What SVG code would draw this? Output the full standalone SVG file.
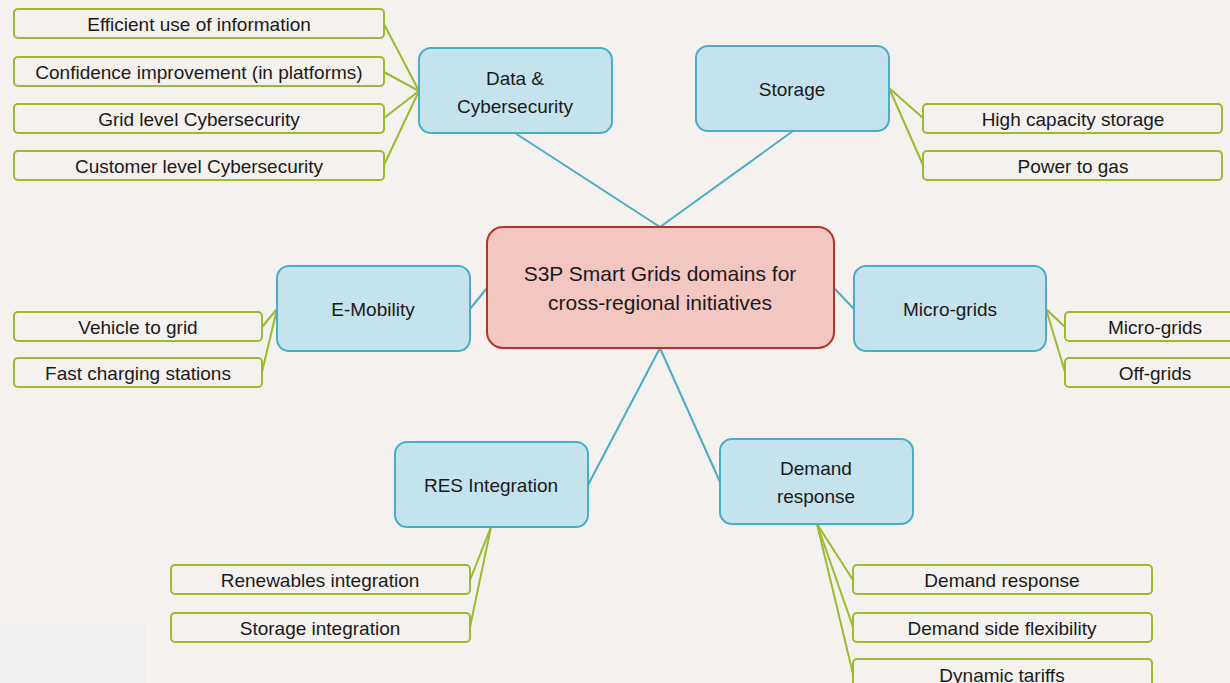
<svg xmlns="http://www.w3.org/2000/svg" width="1230" height="683" viewBox="0 0 1230 683">
<style>
  .leaf rect { fill: #f4f1ee; stroke: #9bbb30; stroke-width: 2; }
  .leaf text { font-family: "Liberation Sans", Arial, sans-serif; font-size: 19px; fill: #1a1a1a; text-anchor: middle; dominant-baseline: central; }
  .dom rect { fill: #c5e3ed; stroke: #4bacc6; stroke-width: 2; }
  .dom text { font-family: "Liberation Sans", Arial, sans-serif; font-size: 19px; fill: #1a1a1a; text-anchor: middle; dominant-baseline: central; }
  .center rect { fill: #f4c6c2; stroke: #b3362c; stroke-width: 2; }
  .center text { font-family: "Liberation Sans", Arial, sans-serif; font-size: 21px; fill: #1a1a1a; text-anchor: middle; dominant-baseline: central; }
  .blue { stroke: #4bacc6; stroke-width: 2; fill: none; }
  .green { stroke: #9bbb30; stroke-width: 2; fill: none; }
</style>
<rect x="0" y="0" width="1230" height="683" fill="#f4f1ee"/>
<rect x="0" y="623" width="146" height="60" fill="#f1efee"/>

<g id="connectors">
  <line class="blue" x1="515" y1="133" x2="660" y2="227"/>
  <line class="blue" x1="793" y1="131" x2="660" y2="227"/>
  <line class="blue" x1="487" y1="288" x2="470" y2="309"/>
  <line class="blue" x1="834" y1="288" x2="854" y2="309"/>
  <line class="blue" x1="660" y1="348" x2="588" y2="485"/>
  <line class="blue" x1="660" y1="348" x2="720" y2="482"/>

  <line class="green" x1="419" y1="91" x2="384" y2="24"/>
  <line class="green" x1="419" y1="91" x2="384" y2="72"/>
  <line class="green" x1="419" y1="91" x2="384" y2="118"/>
  <line class="green" x1="419" y1="91" x2="384" y2="165"/>

  <line class="green" x1="889" y1="88" x2="923" y2="118"/>
  <line class="green" x1="889" y1="88" x2="923" y2="165"/>

  <line class="green" x1="277" y1="309" x2="262" y2="327"/>
  <line class="green" x1="277" y1="309" x2="262" y2="372"/>

  <line class="green" x1="1046" y1="309" x2="1065" y2="327"/>
  <line class="green" x1="1046" y1="309" x2="1065" y2="372"/>

  <line class="green" x1="491" y1="527" x2="470" y2="580"/>
  <line class="green" x1="491" y1="527" x2="470" y2="627"/>

  <line class="green" x1="817" y1="524" x2="853" y2="580"/>
  <line class="green" x1="817" y1="524" x2="853" y2="627"/>
  <line class="green" x1="817" y1="524" x2="853" y2="674"/>
</g>

<g id="center" class="center">
  <rect x="487" y="227" width="347" height="121" rx="16"/>
  <text x="660" y="273">S3P Smart Grids domains for</text>
  <text x="660" y="302">cross-regional initiatives</text>
</g>

<g id="data" class="dom">
  <rect x="419" y="48" width="193" height="85" rx="12"/>
  <text x="515" y="78">Data &amp;</text>
  <text x="515" y="106">Cybersecurity</text>
</g>
<g id="storage" class="dom">
  <rect x="696" y="46" width="193" height="85" rx="12"/>
  <text x="792" y="89">Storage</text>
</g>
<g id="emobility" class="dom">
  <rect x="277" y="266" width="193" height="85" rx="12"/>
  <text x="373" y="309">E-Mobility</text>
</g>
<g id="microgrids" class="dom">
  <rect x="854" y="266" width="192" height="85" rx="12"/>
  <text x="950" y="309">Micro-grids</text>
</g>
<g id="res" class="dom">
  <rect x="395" y="442" width="193" height="85" rx="12"/>
  <text x="491" y="485">RES Integration</text>
</g>
<g id="demand" class="dom">
  <rect x="720" y="439" width="193" height="85" rx="12"/>
  <text x="816" y="468">Demand</text>
  <text x="816" y="496">response</text>
</g>

<g id="leaf-efficient" class="leaf">
  <rect x="14" y="9" width="370" height="29" rx="4"/>
  <text x="199" y="24">Efficient use of information</text>
</g>
<g id="leaf-confidence" class="leaf">
  <rect x="14" y="57" width="370" height="29" rx="4"/>
  <text x="199" y="72">Confidence improvement (in platforms)</text>
</g>
<g id="leaf-grid" class="leaf">
  <rect x="14" y="104" width="370" height="29" rx="4"/>
  <text x="199" y="119">Grid level Cybersecurity</text>
</g>
<g id="leaf-customer" class="leaf">
  <rect x="14" y="151" width="370" height="29" rx="4"/>
  <text x="199" y="166">Customer level Cybersecurity</text>
</g>

<g id="leaf-highcap" class="leaf">
  <rect x="923" y="104" width="299" height="29" rx="4"/>
  <text x="1073" y="119">High capacity storage</text>
</g>
<g id="leaf-p2g" class="leaf">
  <rect x="923" y="151" width="299" height="29" rx="4"/>
  <text x="1073" y="166">Power to gas</text>
</g>

<g id="leaf-v2g" class="leaf">
  <rect x="14" y="312" width="248" height="29" rx="4"/>
  <text x="138" y="327">Vehicle to grid</text>
</g>
<g id="leaf-fast" class="leaf">
  <rect x="14" y="358" width="248" height="29" rx="4"/>
  <text x="138" y="373">Fast charging stations</text>
</g>

<g id="leaf-micro" class="leaf">
  <rect x="1065" y="312" width="200" height="29" rx="4"/>
  <text x="1155" y="327">Micro-grids</text>
</g>
<g id="leaf-off" class="leaf">
  <rect x="1065" y="358" width="200" height="29" rx="4"/>
  <text x="1155" y="373">Off-grids</text>
</g>

<g id="leaf-renew" class="leaf">
  <rect x="171" y="565" width="299" height="29" rx="4"/>
  <text x="320" y="580">Renewables integration</text>
</g>
<g id="leaf-storint" class="leaf">
  <rect x="171" y="613" width="299" height="29" rx="4"/>
  <text x="320" y="628">Storage integration</text>
</g>

<g id="leaf-dr" class="leaf">
  <rect x="853" y="565" width="299" height="29" rx="4"/>
  <text x="1002" y="580">Demand response</text>
</g>
<g id="leaf-dsf" class="leaf">
  <rect x="853" y="613" width="299" height="29" rx="4"/>
  <text x="1002" y="628">Demand side flexibility</text>
</g>
<g id="leaf-tariffs" class="leaf">
  <rect x="853" y="659" width="299" height="34" rx="4"/>
  <text x="1002" y="675">Dynamic tariffs</text>
</g>
</svg>
